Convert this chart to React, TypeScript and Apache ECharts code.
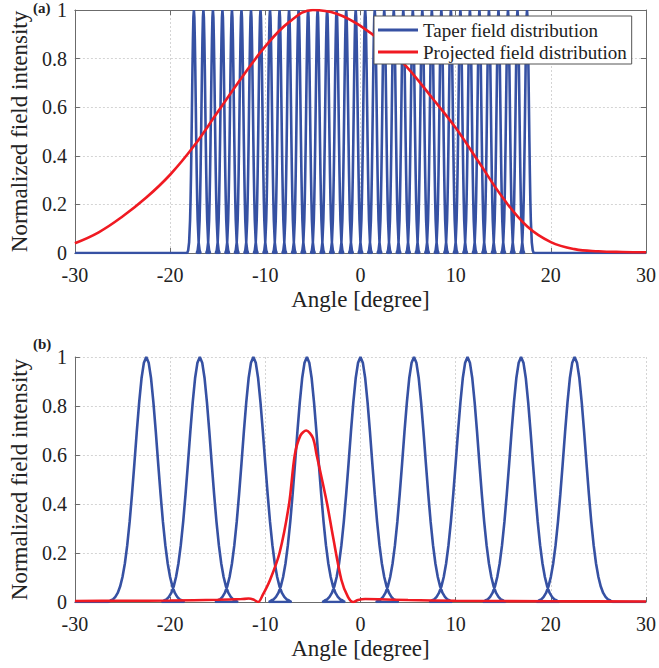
import React, { useEffect, useRef } from "react";
import * as echarts from "echarts";

// ---------- data ----------
// Panel (a): taper field peaks (centres, degrees)
const TOP_PEAK_CENTERS = [
  -17.5, -16.5, -15.5, -14.5, -13.5, -12.5, -11.5, -10.5, -9.5, -8.5, -7.5, -6.5,
  -5.5, -4.5, -3.5, -2.5, -1.5, -0.5, 0.5, 1.5, 2.5, 3.5, 4.5, 5.5,
  6.5, 7.5, 8.5, 9.5, 10.5, 11.5, 12.5, 13.5, 14.5, 15.5, 16.5, 17.5,
];
// half-profile of one narrow peak: offset from centre (deg) -> intensity
const TOP_PEAK_OFFSETS = [0, 0.05, 0.1, 0.15, 0.2, 0.25, 0.3, 0.35, 0.4, 0.5, 0.6, 0.7];
const TOP_PEAK_VALUES = [1, 0.97, 0.88, 0.755, 0.607, 0.458, 0.325, 0.216, 0.135, 0.044, 0.011, 0];

// Panel (a): projected field distribution
const TOP_RED_ANGLES = [
  -30, -27.5, -25, -22.5, -20, -17.5, -15, -12.5, -10, -7.5, -5, -2.5, 0, 2.5, 5,
  7.5, 10, 12.5, 15, 17.5, 20, 22.5, 25, 27.5, 30,
];
const TOP_RED_VALUES = [
  0.04, 0.085, 0.15, 0.228, 0.322, 0.44, 0.58, 0.72, 0.85, 0.95, 1.0, 0.985, 0.935,
  0.86, 0.76, 0.64, 0.515, 0.37, 0.225, 0.11, 0.045, 0.016, 0.007, 0.004, 0.003,
];

// Panel (b): taper field peaks (centres, degrees)
const BOTTOM_PEAK_CENTERS = [-22.5, -16.875, -11.25, -5.625, 0, 5.625, 11.25, 16.875, 22.5];
const BOTTOM_PEAK_OFFSETS = [
  0, 0.25, 0.5, 0.75, 1, 1.25, 1.5, 1.75, 2, 2.25, 2.5, 2.75, 3, 3.25, 3.5, 3.75, 4,
];
const BOTTOM_PEAK_VALUES = [
  1, 0.977, 0.913, 0.814, 0.694, 0.565, 0.44, 0.327, 0.232, 0.157, 0.102, 0.063,
  0.037, 0.021, 0.011, 0.006, 0,
];

// Panel (b): projected field distribution
const BOTTOM_RED_ANGLES = [
  -30, -25, -20, -15, -12.5, -11.75, -11.25, -10.75, -10.25, -9.5, -8.5, -7.5, -6.9,
  -6.3, -5.7, -5.0, -4.6, -3.5, -2.9, -2.0, -1.3, -0.75, -0.25, 0.5, 2, 5, 10, 20, 30,
];
const BOTTOM_RED_VALUES = [
  0.004, 0.005, 0.006, 0.009, 0.012, 0.014, 0.01, 0.0, 0.03, 0.09, 0.2, 0.4, 0.6,
  0.68, 0.7, 0.67, 0.6, 0.4, 0.27, 0.09, 0.02, 0.0, 0.008, 0.012, 0.011, 0.008,
  0.005, 0.003, 0.002,
];

const SERIES_NAMES = ["Taper field distribution", "Projected field distribution"];
const X_MIN = -30;
const X_MAX = 30;
const X_STEP = 10;
const Y_MIN = 0;
const Y_MAX = 1;
const Y_STEP = 0.2;

// ---------- styles ----------
const FONT = "Liberation Serif";
const BLUE = "#3651a3";
const RED = "#f01a22";
const AXIS_COLOR = "#6b6b6b";
const TEXT_COLOR = "#222222";
const GRID_COLOR = "#d4d4d4";

// one polyline through every peak (tails return along the zero baseline)
function peakChain(centers: number[], offsets: number[], values: number[]) {
  const pts: number[][] = [[X_MIN, 0]];
  centers.forEach((c) => {
    for (let i = offsets.length - 1; i > 0; i--) pts.push([c - offsets[i], values[i]]);
    for (let i = 0; i < offsets.length; i++) pts.push([c + offsets[i], values[i]]);
  });
  pts.push([X_MAX, 0]);
  return pts;
}

function zip(a: number[], b: number[]) {
  return a.map((v, i) => [v, b[i]]);
}

function mainX(gridIndex: number) {
  return {
    type: "value",
    gridIndex,
    min: X_MIN,
    max: X_MAX,
    interval: X_STEP,
    position: "bottom",
    axisLine: { show: true, onZero: false, lineStyle: { color: AXIS_COLOR, width: 1 } },
    axisTick: { show: true, inside: true, length: 5, lineStyle: { color: AXIS_COLOR } },
    axisLabel: { fontFamily: FONT, fontSize: 20, color: TEXT_COLOR, margin: 12 },
    splitLine: { show: true, lineStyle: { color: GRID_COLOR, type: [2, 2], width: 1 } },
    name: "Angle [degree]",
    nameLocation: "middle",
    nameGap: 35,
    nameTextStyle: { fontFamily: FONT, fontSize: 23, color: TEXT_COLOR },
  };
}

function mainY(gridIndex: number) {
  return {
    type: "value",
    gridIndex,
    min: Y_MIN,
    max: Y_MAX,
    interval: Y_STEP,
    position: "left",
    axisLine: { show: true, onZero: false, lineStyle: { color: AXIS_COLOR, width: 1 } },
    axisTick: { show: true, inside: true, length: 5, lineStyle: { color: AXIS_COLOR } },
    axisLabel: { fontFamily: FONT, fontSize: 20, color: TEXT_COLOR, margin: 8 },
    splitLine: { show: true, lineStyle: { color: GRID_COLOR, type: [2, 2], width: 1 } },
    name: "Normalized field intensity",
    nameLocation: "middle",
    nameGap: 40,
    nameTextStyle: { fontFamily: FONT, fontSize: 23, color: TEXT_COLOR },
  };
}

function boxAxis(kind: "x" | "y") {
  return {
    type: "value",
    gridIndex: 0,
    min: kind === "x" ? X_MIN : Y_MIN,
    max: kind === "x" ? X_MAX : Y_MAX,
    interval: kind === "x" ? X_STEP : Y_STEP,
    position: kind === "x" ? "top" : "right",
    axisLine: { show: true, onZero: false, lineStyle: { color: AXIS_COLOR, width: 1 } },
    axisTick: { show: true, inside: true, length: 5, lineStyle: { color: AXIS_COLOR } },
    axisLabel: { show: false },
    splitLine: { show: false },
  };
}

export default function App() {
  const ref = useRef<HTMLDivElement>(null);

  useEffect(() => {
    if (!ref.current) return;
    const chart = echarts.init(ref.current, null, { renderer: "svg" });

    const series: any[] = [
      {
        type: "line",
        name: SERIES_NAMES[0],
        xAxisIndex: 0,
        yAxisIndex: 0,
        data: peakChain(TOP_PEAK_CENTERS, TOP_PEAK_OFFSETS, TOP_PEAK_VALUES),
        showSymbol: false,
        symbol: "none",
        smooth: false,
        lineStyle: { color: BLUE, width: 2.6 },
        itemStyle: { color: BLUE },
      },
      {
        type: "line",
        name: SERIES_NAMES[1],
        xAxisIndex: 0,
        yAxisIndex: 0,
        data: zip(TOP_RED_ANGLES, TOP_RED_VALUES),
        showSymbol: false,
        symbol: "none",
        smooth: 0.4,
        lineStyle: { color: RED, width: 2.6 },
        itemStyle: { color: RED },
      },
      {
        type: "line",
        name: SERIES_NAMES[0],
        xAxisIndex: 2,
        yAxisIndex: 2,
        data: peakChain(BOTTOM_PEAK_CENTERS, BOTTOM_PEAK_OFFSETS, BOTTOM_PEAK_VALUES),
        showSymbol: false,
        symbol: "none",
        smooth: false,
        lineStyle: { color: BLUE, width: 2.6 },
        itemStyle: { color: BLUE },
      },
      {
        type: "line",
        name: SERIES_NAMES[1],
        xAxisIndex: 2,
        yAxisIndex: 2,
        data: zip(BOTTOM_RED_ANGLES, BOTTOM_RED_VALUES),
        showSymbol: false,
        symbol: "none",
        smooth: 0.3,
        lineStyle: { color: RED, width: 2.6 },
        itemStyle: { color: RED },
      },
    ];

    const option: any = {
      animation: false,
      grid: [
        { left: 68, top: 10, width: 580, height: 243, containLabel: false },
        { left: 68, top: 357, width: 580, height: 245, containLabel: false },
      ],
      xAxis: [mainX(0), boxAxis("x"), mainX(1)],
      yAxis: [mainY(0), boxAxis("y"), mainY(1)],
      legend: {
        show: true,
        data: SERIES_NAMES,
        orient: "vertical",
        left: 374,
        top: 16,
        icon: "rect",
        itemWidth: 40,
        itemHeight: 3,
        itemGap: 2,
        padding: [4, 5, 2, 4],
        backgroundColor: "#ffffff",
        borderColor: "#555555",
        borderWidth: 1,
        borderRadius: 0,
        selectedMode: false,
        textStyle: { fontFamily: FONT, fontSize: 19, color: TEXT_COLOR, lineHeight: 20 },
      },
      graphic: [
        {
          type: "text",
          left: 33,
          top: 0,
          style: { text: "(a)", fontFamily: FONT, fontSize: 15, fontWeight: "bold", fill: TEXT_COLOR },
        },
        {
          type: "text",
          left: 33,
          top: 336,
          style: { text: "(b)", fontFamily: FONT, fontSize: 15, fontWeight: "bold", fill: TEXT_COLOR },
        },
      ],
      series,
    };

    chart.setOption(option);
    return () => chart.dispose();
  }, []);

  return (
    <div style={{ position: "fixed", left: 0, top: 0, width: 659, height: 668, background: "#fff" }}>
      <div ref={ref} style={{ width: 659, height: 668 }} />
    </div>
  );
}
